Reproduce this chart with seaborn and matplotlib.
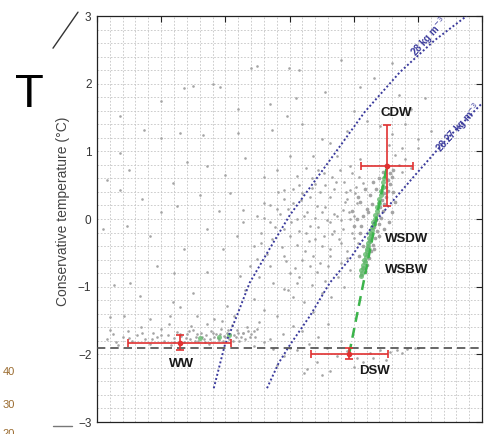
import matplotlib
matplotlib.use("Agg")
import matplotlib.pyplot as plt
import seaborn as sns
from matplotlib.lines import Line2D
from matplotlib.ticker import MultipleLocator

# ---------------------------------------------------------------------------
# Data: absolute salinity (g/kg) and conservative temperature (degC)
# ---------------------------------------------------------------------------

# Winter Water band near the surface freezing point
ww_sal = [34.215, 34.225, 34.232, 34.240, 34.248, 34.255, 34.262, 34.268, 34.275, 34.282,
          34.288, 34.294, 34.300, 34.305, 34.310, 34.316, 34.320, 34.325, 34.331, 34.336,
          34.340, 34.345, 34.350, 34.354, 34.358, 34.362, 34.366, 34.370, 34.374, 34.378,
          34.382, 34.386, 34.390, 34.394, 34.398, 34.402, 34.406, 34.410, 34.414, 34.418,
          34.422, 34.428, 34.433, 34.438, 34.444, 34.452, 34.347, 34.372, 34.395, 34.312,
          34.330, 34.338, 34.343, 34.352, 34.356, 34.364, 34.368, 34.376, 34.380, 34.388,
          34.392, 34.396, 34.400, 34.404, 34.408, 34.412, 34.416, 34.420, 34.425, 34.430,
          34.435, 34.440, 34.446, 34.320, 34.300, 34.285, 34.270, 34.250, 34.230, 34.220]
ww_temp = [-1.78, -1.70, -1.86, -1.74, -1.66, -1.81, -1.72, -1.60, -1.77, -1.84,
           -1.69, -1.75, -1.63, -1.80, -1.71, -1.86, -1.76, -1.67, -1.73, -1.82,
           -1.70, -1.78, -1.64, -1.74, -1.81, -1.69, -1.77, -1.72, -1.84, -1.66,
           -1.75, -1.70, -1.79, -1.62, -1.73, -1.68, -1.77, -1.57, -1.71, -1.64,
           -1.80, -1.69, -1.60, -1.75, -1.66, -1.52, -1.58, -1.55, -1.50, -1.55,
           -1.70, -1.76, -1.66, -1.80, -1.70, -1.74, -1.82, -1.78, -1.68, -1.76,
           -1.70, -1.80, -1.74, -1.64, -1.70, -1.80, -1.75, -1.68, -1.74, -1.78,
           -1.65, -1.70, -1.74, -1.82, -1.72, -1.78, -1.68, -1.76, -1.82, -1.64]

# Scattered profiles over the whole water column
bg_sal = [34.335, 34.350, 34.381, 34.392, 34.440, 34.450, 34.499, 34.515, 34.631, 34.580, 34.660,
          34.236, 34.300, 34.420, 34.470, 34.510, 34.556, 34.610, 34.670, 34.711, 34.690, 34.655, 34.600, 34.496,
          34.273, 34.300, 34.330, 34.365, 34.420, 34.473, 34.520, 34.550, 34.590, 34.620, 34.641, 34.660,
          34.680, 34.700, 34.675, 34.655, 34.236, 34.563, 34.700, 34.720,
          34.216, 34.250, 34.319, 34.340, 34.371, 34.400, 34.430, 34.460, 34.480, 34.501, 34.512, 34.537,
          34.553, 34.574, 34.595, 34.610, 34.585, 34.540, 34.615, 34.665, 34.670, 34.675, 34.680, 34.690,
          34.236, 34.270, 34.300, 34.325, 34.360, 34.390, 34.408, 34.428, 34.449, 34.460, 34.491, 34.506,
          34.522, 34.532, 34.543, 34.558, 34.563, 34.574, 34.584, 34.595, 34.605, 34.590, 34.550, 34.520,
          34.480, 34.570, 34.600, 34.535,
          34.210, 34.247, 34.283, 34.335, 34.371, 34.397, 34.418, 34.428, 34.470, 34.491, 34.512, 34.532,
          34.553, 34.563, 34.584, 34.595, 34.512, 34.563, 34.540, 34.580, 34.600, 34.500, 34.455, 34.525,
          34.570, 34.590,
          34.226, 34.252, 34.293, 34.320, 34.371, 34.423, 34.449, 34.470, 34.491, 34.512, 34.532, 34.543,
          34.563, 34.580, 34.520, 34.500, 34.595, 34.555,
          34.221, 34.242, 34.267, 34.283, 34.314, 34.319, 34.350, 34.356, 34.382, 34.402, 34.413, 34.444,
          34.460, 34.480, 34.491, 34.522, 34.537, 34.505, 34.550, 34.330, 34.430,
          34.449, 34.428, 34.470, 34.444, 34.506, 34.490, 34.520, 34.545, 34.560, 34.530, 34.580, 34.500,
          34.475, 34.460]
bg_temp = [1.94, 1.96, 1.99, 1.95, 2.23, 2.26, 2.23, 2.20, 2.09, 2.35, 2.30,
           1.52, 1.75, 1.62, 1.70, 1.79, 1.88, 1.95, 1.84, 1.79, 1.62, 1.55, 1.60, 1.52,
           1.32, 1.20, 1.27, 1.24, 1.27, 1.32, 1.40, 1.18, 1.30, 1.45, 1.37, 1.25,
           1.40, 1.18, 1.05, 1.10, 0.98, 1.12, 1.05, 1.30,
           0.58, 0.72, 0.53, 0.85, 0.78, 0.65, 0.90, 0.62, 0.73, 0.93, 0.63, 0.93,
           0.68, 0.93, 0.78, 0.88, 0.55, 0.52, 0.53, 0.95, 0.80, 0.70, 0.88, 0.75,
           0.43, 0.30, 0.10, 0.19, 0.35, 0.12, 0.38, 0.14, 0.04, 0.23, 0.43, 0.23,
           0.04, 0.33, 0.19, -0.01, 0.33, 0.04, 0.14, 0.43, 0.23, 0.30, 0.10, 0.38,
           0.15, 0.45, 0.05, 0.46,
           -0.15, -0.10, -0.25, -0.45, -0.15, -0.44, -0.25, -0.05, -0.05, -0.15, 0.00, -0.10,
           -0.25, -0.05, -0.15, 0.00, -0.39, -0.45, -0.30, -0.35, -0.28, -0.25, -0.35, -0.20,
           -0.18, -0.48,
           -0.98, -0.94, -0.69, -0.80, -0.79, -0.84, -0.59, -0.69, -0.54, -0.94, -0.69, -0.79,
           -0.55, -0.65, -0.60, -0.80, -0.75, -0.92,
           -1.45, -1.43, -1.14, -1.48, -1.43, -1.23, -1.09, -1.43, -1.48, -1.28, -1.43, -1.18,
           -1.35, -1.43, -1.04, -1.23, -1.38, -1.15, -1.10, -1.30, -1.05,
           -1.63, -1.68, -1.78, -1.88, -1.58, -1.70, -1.65, -1.75, -1.55, -1.85, -1.80, -1.90,
           -1.92, -1.82]

# Intermediate water between the two isolines
mid_sal = [34.465, 34.472, 34.478, 34.485, 34.488, 34.495, 34.498, 34.503, 34.508, 34.515,
           34.518, 34.524, 34.527, 34.530, 34.536, 34.539, 34.545, 34.548, 34.551, 34.556,
           34.560, 34.566, 34.569, 34.572, 34.577, 34.581, 34.586, 34.589, 34.593, 34.597,
           34.602, 34.606, 34.609, 34.603, 34.597, 34.588, 34.578, 34.566, 34.555, 34.545,
           34.535, 34.525, 34.515, 34.505, 34.492, 34.482, 34.470, 34.460, 34.455, 34.445,
           34.438, 34.452, 34.475, 34.498, 34.515, 34.535, 34.548, 34.575, 34.585, 34.565]
mid_temp = [-0.52, -0.30, -0.12, 0.08, -0.42, -0.62, 0.15, -0.05, -0.72, -0.18,
            0.28, -0.48, 0.10, -0.32, -0.55, 0.02, -0.12, 0.40, -0.40, 0.18,
            -0.70, -0.22, 0.08, 0.55, -0.30, -0.02, 0.25, -0.58, 0.10, -0.20,
            0.38, -0.35, 0.62, 0.48, 0.68, 0.40, 0.72, 0.62, 0.50, 0.72,
            0.60, 0.75, 0.50, 0.45, 0.30, 0.40, 0.20, 0.02, -0.20, -0.40,
            -0.70, -0.85, -0.95, -1.05, -0.85, -0.98, -0.65, -0.85, -1.00, -1.15]

# Dense shelf water below the surface freezing point
dsw_sal = [34.527, 34.563, 34.543, 34.574, 34.605, 34.615, 34.641, 34.667, 34.683, 34.657, 34.558, 34.512,
           34.491, 34.480, 34.522, 34.590, 34.625, 34.630, 34.600, 34.650, 34.675, 34.695, 34.700, 34.550]
dsw_temp = [-2.22, -2.25, -2.12, -2.02, -2.05, -2.12, -1.93, -1.93, -1.92, -1.97, -1.90, -1.93,
            -2.02, -2.15, -2.27, -1.95, -1.98, -2.05, -2.18, -2.08, -1.98, -1.91, -1.90, -2.30]

# Deep water: CDW core and the WSDW / WSBW band
deep_sal = [34.612, 34.618, 34.615, 34.621, 34.617, 34.624, 34.620, 34.627, 34.623, 34.630, 34.626,
            34.633, 34.629, 34.636, 34.632, 34.639, 34.635, 34.642, 34.638, 34.645, 34.641, 34.648,
            34.644, 34.651, 34.647, 34.654, 34.650, 34.657, 34.653, 34.660, 34.656, 34.662,
            34.615, 34.620, 34.610, 34.625, 34.618, 34.630, 34.622, 34.628, 34.612, 34.605, 34.635,
            34.640, 34.645, 34.650, 34.662, 34.665, 34.660, 34.655, 34.648, 34.640, 34.632, 34.625,
            34.615, 34.608, 34.610, 34.600, 34.598, 34.606]
deep_temp = [-0.82, -0.78, -0.72, -0.68, -0.62, -0.58, -0.52, -0.48, -0.42, -0.38, -0.32,
             -0.28, -0.22, -0.18, -0.12, -0.08, -0.02, 0.02, 0.08, 0.12, 0.18, 0.22,
             0.28, 0.32, 0.38, 0.42, 0.48, 0.52, 0.58, 0.62, 0.68, 0.72,
             0.05, 0.15, 0.25, 0.35, 0.45, 0.55, 0.10, 0.22, -0.10, 0.00, 0.45,
             0.60, 0.70, 0.80, 0.40, 0.25, 0.10, -0.05, -0.15, -0.25, -0.45, -0.30,
             -0.40, -0.55, -0.20, -0.10, 0.12, 0.32]

# Mooring records (green)
moor_sal = [34.611, 34.613, 34.612, 34.615, 34.614, 34.617, 34.616, 34.619, 34.618, 34.621, 34.620,
            34.623, 34.622, 34.625, 34.624, 34.627, 34.626, 34.629, 34.628, 34.631, 34.630, 34.633,
            34.634, 34.636, 34.637, 34.639, 34.640, 34.642, 34.643, 34.645, 34.646, 34.648,
            34.360, 34.390, 34.405]
moor_temp = [-0.84, -0.80, -0.76, -0.72, -0.68, -0.64, -0.60, -0.56, -0.52, -0.48, -0.44,
             -0.40, -0.36, -0.32, -0.28, -0.24, -0.20, -0.16, -0.12, -0.08, -0.04, 0.00,
             0.06, 0.12, 0.18, 0.24, 0.30, 0.36, 0.42, 0.48, 0.54, 0.60,
             -1.76, -1.74, -1.72]

# Neutral-density isolines
iso28_sal = [34.382, 34.399, 34.418, 34.438, 34.469, 34.500, 34.563, 34.617, 34.672, 34.726, 34.776]
iso28_temp = [-2.50, -1.87, -1.43, -0.94, -0.44, 0.05, 0.87, 1.58, 2.17, 2.64, 3.00]
iso2827_sal = [34.465, 34.483, 34.500, 34.532, 34.563, 34.594, 34.636, 34.694, 34.745, 34.800]
iso2827_temp = [-2.50, -2.13, -1.87, -1.43, -0.94, -0.59, -0.01, 0.63, 1.18, 1.71]

# Water-mass end members: mean and one standard deviation
wm_names = ["WW", "DSW", "CDW"]
wm_sal = [34.329, 34.593, 34.652]
wm_temp = [-1.83, -1.99, 0.79]
wm_sal_sd = [0.080, 0.060, 0.040]
wm_temp_sd = [0.11, 0.08, 0.60]

freezing_temp = -1.9

# ---------------------------------------------------------------------------
# Figure
# ---------------------------------------------------------------------------
sns.set_theme(style="white")
plt.rcParams["font.family"] = ["Liberation Sans", "DejaVu Sans"]

fig = plt.figure(figsize=(5.0, 4.34), dpi=100)
ax = fig.add_axes([0.194, 0.0276, 0.77, 0.9355])

grey = "#a4a4a4"
for xs, ys in [(bg_sal, bg_temp), (ww_sal, ww_temp), (mid_sal, mid_temp),
               (dsw_sal, dsw_temp)]:
    sns.scatterplot(x=xs, y=ys, color=grey, s=3.5, linewidth=0, ax=ax, zorder=2)
sns.scatterplot(x=deep_sal, y=deep_temp, color=grey, s=7, linewidth=0, ax=ax, zorder=2)
sns.scatterplot(x=moor_sal, y=moor_temp, color="#62b96c", s=13, linewidth=0, alpha=0.8,
                ax=ax, zorder=3)

iso_color = "#3a3a9c"
sns.lineplot(x=iso28_sal, y=iso28_temp, sort=False, estimator=None, color=iso_color,
             linestyle=(0, (1, 1.2)), linewidth=1.4, ax=ax, zorder=4)
sns.lineplot(x=iso2827_sal, y=iso2827_temp, sort=False, estimator=None, color=iso_color,
             linestyle=(0, (1, 1.2)), linewidth=1.4, ax=ax, zorder=4)
ax.text(34.717, 2.69, "28 kg m$^{-3}$", color=iso_color, fontsize=7, fontweight="bold",
        rotation=48, ha="center", va="center", zorder=6)
ax.text(34.764, 1.35, "28.27 kg m$^{-3}$", color=iso_color, fontsize=7, fontweight="bold",
        rotation=48, ha="center", va="center", zorder=6)

# surface freezing temperature
ax.axhline(freezing_temp, color="#4d4d4d", linestyle=(0, (5, 3)), linewidth=1.2, zorder=4)

# mixing line between DSW and CDW
dsw_i, cdw_i = wm_names.index("DSW"), wm_names.index("CDW")
ax.plot([wm_sal[dsw_i], wm_sal[cdw_i]], [wm_temp[dsw_i], wm_temp[cdw_i]], color="#3cb44b",
        linestyle=(0, (4, 2.5)), linewidth=1.8, zorder=5)

ax.errorbar(wm_sal, wm_temp, xerr=wm_sal_sd, yerr=wm_temp_sd, fmt="o", color="#e03131",
            markersize=3, elinewidth=1.2, capsize=3, capthick=1.2, zorder=7)

label_pos = {"CDW": (34.667, 1.56), "WSDW": (34.683, -0.29), "WSBW": (34.683, -0.76),
             "WW": (34.332, -2.14), "DSW": (34.633, -2.24)}
for name, (xs, yt) in label_pos.items():
    ax.text(xs, yt, name, fontsize=9.5, fontweight="bold", color="#1a1a1a",
            ha="center", va="center", zorder=8)

ax.set_xlim(34.2, 34.8)
ax.set_ylim(-3, 3)
ax.xaxis.set_major_locator(MultipleLocator(0.1))
ax.xaxis.set_minor_locator(MultipleLocator(0.02))
ax.yaxis.set_major_locator(MultipleLocator(1))
ax.yaxis.set_minor_locator(MultipleLocator(0.2))
ax.grid(True, which="both", color="#c4c4c4", linestyle=(0, (2, 2)), linewidth=0.6, zorder=0)
ax.set_axisbelow(True)
ax.tick_params(which="major", direction="in", length=4, width=0.8, top=True, right=True,
               labelbottom=False, labelsize=8.5, labelcolor="#333333", pad=4, color="#222222")
ax.tick_params(which="minor", length=0)
for sp in ax.spines.values():
    sp.set_color("#222222")
    sp.set_linewidth(0.9)
ax.set_ylabel("Conservative temperature (°C)", fontsize=10, color="#444444")
ax.yaxis.set_label_coords(-0.07, 0.52)
ax.set_xlabel("")

# neighbouring panel elements
fig.text(0.058, 0.781, "T", fontsize=34, ha="center", va="center", color="black")
fig.add_artist(Line2D([0.106, 0.156], [0.889, 0.972], color="#333333", linewidth=1.0))
fig.text(0.018, 0.143, "40", fontsize=8, ha="center", va="center", color="#9a6b2f")
fig.text(0.018, 0.067, "30", fontsize=8, ha="center", va="center", color="#9a6b2f")
fig.text(0.018, 0.0, "20", fontsize=8, ha="center", va="center", color="#9a6b2f")
fig.add_artist(Line2D([0.106, 0.144], [0.0184, 0.0184], color="#777777", linewidth=1.0))

fig.savefig("out.png", dpi=100)
